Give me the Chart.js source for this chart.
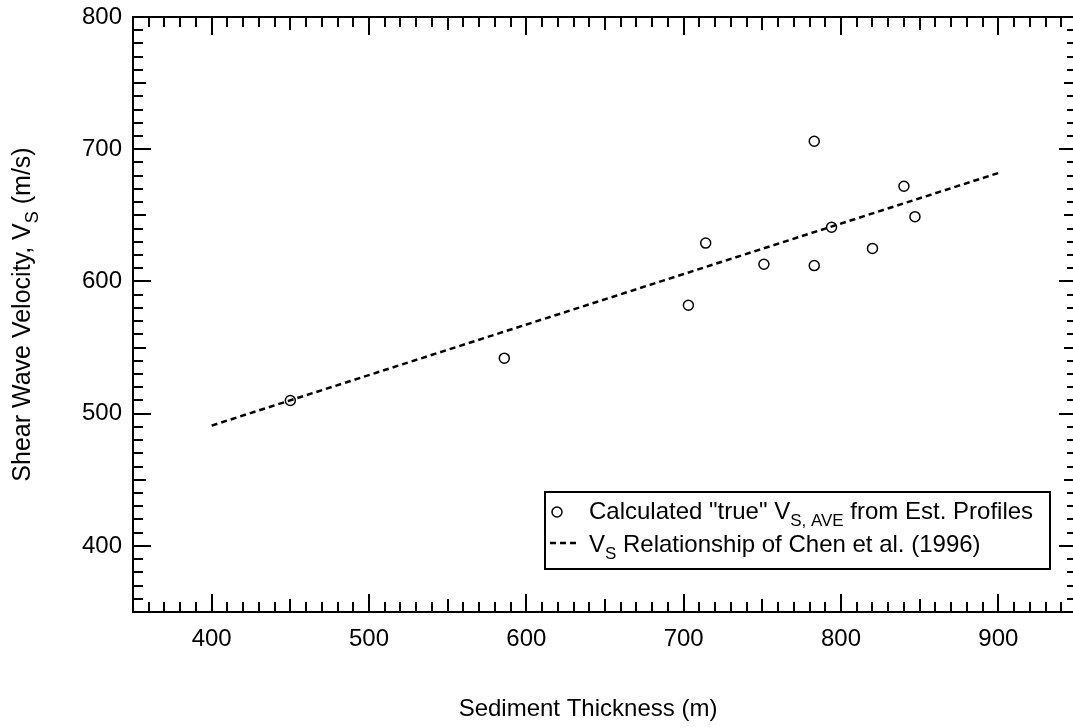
<!DOCTYPE html>
<html>
<head>
<meta charset="utf-8">
<title>Shear Wave Velocity vs Sediment Thickness</title>
<script src="https://cdn.jsdelivr.net/npm/chart.js@4.4.0/dist/chart.umd.min.js"></script>
<style>
    html, body { margin: 0; padding: 0; background: #fff; overflow: hidden; }
    #wrap { width: 1078px; height: 727px; }
</style>
</head>
<body>
<div id="wrap"><canvas id="chart" width="1078" height="727"></canvas></div>
<script>
// measured points (Sediment thickness m, Vs m/s)
const thickness = [450, 586, 703, 714, 751, 783, 783, 794, 820, 840, 847];
const velocity  = [510, 542, 582, 629, 613, 706, 612, 641, 625, 672, 649];

// Chen et al. (1996) relationship, end points
const chenX = [400, 900];
const chenY = [491, 682];

const xTicks = [400, 500, 600, 700, 800, 900];
const yTicks = [400, 500, 600, 700, 800];

const FONT = '"Liberation Sans", Arial, sans-serif';

// draws the box, the inward ticks, titles and the legend
const decorations = {
    id: 'decorations',
    afterDraw(chart) {
        const ctx = chart.ctx;
        const a = chart.chartArea;
        const xs = chart.scales.x, ys = chart.scales.y;

        ctx.save();
        ctx.strokeStyle = '#000';
        ctx.lineWidth = 2;
        ctx.strokeRect(a.left, a.top, a.right - a.left, a.bottom - a.top);

        const len = v => (v % 100 === 0 ? 18 : (v % 50 === 0 ? 13 : 10));
        ctx.beginPath();
        for (let v = xs.min + 10; v < xs.max; v += 10) {
            const px = Math.round(xs.getPixelForValue(v));
            ctx.moveTo(px, a.bottom); ctx.lineTo(px, a.bottom - len(v));
            ctx.moveTo(px, a.top); ctx.lineTo(px, a.top + len(v));
        }
        for (let v = ys.min + 10; v < ys.max; v += 10) {
            const py = Math.round(ys.getPixelForValue(v));
            ctx.moveTo(a.left, py); ctx.lineTo(a.left + len(v), py);
            ctx.moveTo(a.right, py); ctx.lineTo(a.right - len(v), py);
        }
        ctx.stroke();

        ctx.fillStyle = '#000';
        ctx.textBaseline = 'alphabetic';

        // text runs with subscripts: [text, isSub]
        function runs(parts, x, y, size) {
            let cx = x;
            parts.forEach(([t, sub]) => {
                const s = sub ? Math.round(size * 0.7) : size;
                ctx.font = s + 'px ' + FONT;
                ctx.fillText(t, cx, sub ? y + size * 0.3 : y);
                cx += ctx.measureText(t).width;
            });
            return cx - x;
        }
        function runsWidth(parts, size) {
            let w = 0;
            parts.forEach(([t, sub]) => {
                ctx.font = (sub ? Math.round(size * 0.7) : size) + 'px ' + FONT;
                w += ctx.measureText(t).width;
            });
            return w;
        }

        // x title
        ctx.font = '24px ' + FONT;
        ctx.textAlign = 'center';
        ctx.fillText('Sediment Thickness (m)', 588, 716);

        // y title
        ctx.textAlign = 'left';
        const yt = [['Shear Wave Velocity, V', false], ['S', true], [' (m/s)', false]];
        ctx.save();
        ctx.translate(30, (a.top + a.bottom) / 2);
        ctx.rotate(-Math.PI / 2);
        runs(yt, -runsWidth(yt, 25) / 2, 0, 25);
        ctx.restore();

        // legend
        const bx = 545, by = 492, bw = 505, bh = 77;
        ctx.fillStyle = '#fff';
        ctx.fillRect(bx, by, bw, bh);
        ctx.lineWidth = 2;
        ctx.strokeRect(bx, by, bw, bh);
        ctx.fillStyle = '#000';

        ctx.lineWidth = 1.5;
        ctx.beginPath();
        ctx.arc(bx + 12, by + 20, 5, 0, Math.PI * 2);
        ctx.stroke();
        runs([['Calculated "true" V', false], ['S, AVE', true], [' from Est. Profiles', false]], bx + 44, by + 27, 24);

        ctx.lineWidth = 2.5;
        ctx.setLineDash([6, 4]);
        ctx.beginPath();
        ctx.moveTo(bx + 5, by + 51);
        ctx.lineTo(bx + 33, by + 51);
        ctx.stroke();
        ctx.setLineDash([]);
        runs([['V', false], ['S', true], [' Relationship of Chen et al. (1996)', false]], bx + 44, by + 60, 24);

        ctx.restore();
    }
};

new Chart(document.getElementById('chart'), {
    type: 'scatter',
    data: {
        datasets: [
            {
                label: 'Calculated "true" Vs,ave from Est. Profiles',
                data: thickness.map((x, i) => ({ x: x, y: velocity[i] })),
                pointStyle: 'circle',
                pointRadius: 5,
                pointHoverRadius: 5,
                pointBorderWidth: 1.5,
                pointBorderColor: '#000',
                pointBackgroundColor: 'rgba(0,0,0,0)',
                showLine: false,
                order: 1
            },
            {
                label: 'Vs Relationship of Chen et al. (1996)',
                type: 'line',
                data: chenX.map((x, i) => ({ x: x, y: chenY[i] })),
                borderColor: '#000',
                borderWidth: 2.5,
                borderDash: [6, 4],
                pointRadius: 0,
                fill: false,
                order: 2
            }
        ]
    },
    options: {
        responsive: false,
        animation: false,
        layout: { autoPadding: false, padding: { top: 17, right: 1, left: 0, bottom: 0 } },
        plugins: {
            legend: { display: false },
            tooltip: { enabled: false }
        },
        scales: {
            x: {
                type: 'linear',
                min: 350,
                max: 950,
                afterBuildTicks: scale => { scale.ticks = xTicks.map(v => ({ value: v })); },
                afterFit: scale => {
                    scale.height = 115;
                    scale.paddingLeft = 0;
                    scale.paddingRight = 0;
                },
                grid: { display: false, drawTicks: false },
                border: { display: false },
                ticks: {
                    color: '#000',
                    padding: 13,
                    maxRotation: 0,
                    font: { family: FONT, size: 24 }
                }
            },
            y: {
                type: 'linear',
                min: 350,
                max: 800,
                afterBuildTicks: scale => { scale.ticks = yTicks.map(v => ({ value: v })); },
                afterFit: scale => {
                    scale.width = 133;
                    scale.paddingTop = 0;
                    scale.paddingBottom = 0;
                },
                grid: { display: false, drawTicks: false },
                border: { display: false },
                ticks: {
                    color: '#000',
                    padding: 11,
                    font: { family: FONT, size: 24 }
                }
            }
        }
    },
    plugins: [decorations]
});
</script>
</body>
</html>
